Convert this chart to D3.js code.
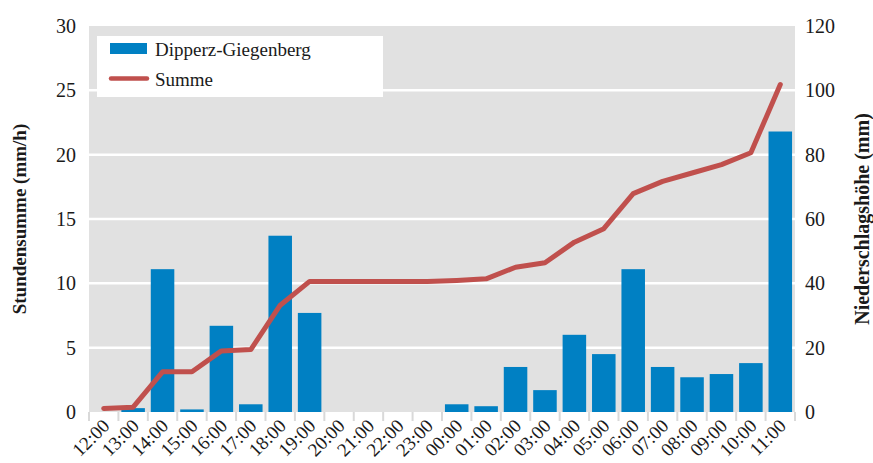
<!DOCTYPE html>
<html>
<head>
<meta charset="utf-8">
<script src="https://cdn.jsdelivr.net/npm/d3@7"></script>
<style>
  html, body { margin: 0; padding: 0; background: #fff; }
  svg { display: block; }
  text { font-family: "Liberation Serif", "DejaVu Serif", serif; fill: #1a1a1a; }
</style>
</head>
<body>
<svg id="chart" width="873" height="463"></svg>
<script>
const categories = ["12:00","13:00","14:00","15:00","16:00","17:00","18:00","19:00","20:00","21:00","22:00","23:00",
                    "00:00","01:00","02:00","03:00","04:00","05:00","06:00","07:00","08:00","09:00","10:00","11:00"];
const hourly = [0, 0.3, 11.1, 0.2, 6.7, 0.6, 13.7, 7.7, 0, 0, 0, 0,
                0.6, 0.45, 3.5, 1.7, 6.0, 4.5, 11.1, 3.5, 2.7, 2.95, 3.8, 21.8];
const cumulative = [1.1, 1.5, 12.5, 12.5, 19.0, 19.4, 33.2, 40.6, 40.6, 40.6, 40.6, 40.6,
                    40.9, 41.4, 45.0, 46.4, 52.8, 57.0, 67.9, 71.7, 74.3, 76.9, 80.6, 101.8];
const leftTicks = [0, 5, 10, 15, 20, 25, 30];
const rightTicks = [0, 20, 40, 60, 80, 100, 120];
const seriesNames = ["Dipperz-Giegenberg", "Summe"];
const leftTitle = "Stundensumme (mm/h)";
const rightTitle = "Niederschlagshöhe (mm)";

const svg = d3.select("#chart");
const x0 = 89, x1 = 795, y0 = 26, y1 = 412;

const x = d3.scaleBand().domain(categories).range([x0, x1]).paddingInner(0.2).paddingOuter(0.1);
const step = (x1 - x0) / categories.length;
const yL = d3.scaleLinear().domain([0, 30]).range([y1, y0]);
const yR = d3.scaleLinear().domain([0, 120]).range([y1, y0]);

// plot background
svg.append("rect").attr("x", x0).attr("y", y0).attr("width", x1 - x0).attr("height", y1 - y0).attr("fill", "#e1e1e1");

// gridlines
svg.append("g").selectAll("line").data(leftTicks.filter(d => d > 0 && d < 30)).join("line")
  .attr("x1", x0 - 1).attr("x2", x1 + 1)
  .attr("y1", d => yL(d)).attr("y2", d => yL(d))
  .attr("stroke", "#ffffff").attr("stroke-width", 2.5);

// bottom tick marks at band boundaries
svg.append("g").selectAll("line").data(d3.range(categories.length + 1)).join("line")
  .attr("x1", i => x0 + i * step).attr("x2", i => x0 + i * step)
  .attr("y1", y1).attr("y2", y1 + 9)
  .attr("stroke", "#d9d9d9").attr("stroke-width", 2);

// bars
svg.append("g").selectAll("rect").data(hourly).join("rect")
  .attr("x", (d, i) => x(categories[i]))
  .attr("width", x.bandwidth())
  .attr("y", d => yL(d))
  .attr("height", d => y1 - yL(d))
  .attr("fill", "#0080c3");

// line
const line = d3.line().x((d, i) => x(categories[i]) + x.bandwidth() / 2).y(d => yR(d));
svg.append("path").datum(cumulative).attr("d", line)
  .attr("fill", "none").attr("stroke", "#c0504d").attr("stroke-width", 5)
  .attr("stroke-linecap", "round").attr("stroke-linejoin", "round");

// left axis labels
svg.append("g").selectAll("text").data(leftTicks).join("text")
  .attr("x", 76).attr("y", d => yL(d)).attr("dy", "0.35em")
  .attr("text-anchor", "end").attr("font-size", 20).text(d => d);

// right axis labels
svg.append("g").selectAll("text").data(rightTicks).join("text")
  .attr("x", 805).attr("y", d => yR(d)).attr("dy", "0.35em")
  .attr("text-anchor", "start").attr("font-size", 20).text(d => d);

// x labels
svg.append("g").selectAll("text").data(categories).join("text")
  .attr("transform", d => `translate(${x(d) + x.bandwidth() / 2 + 7},${y1 + 15}) rotate(-45)`)
  .attr("text-anchor", "end").attr("font-size", 19).text(d => d);

// axis titles
svg.append("text").attr("transform", `translate(26,${(y0 + y1) / 2}) rotate(-90)`)
  .attr("text-anchor", "middle").attr("font-size", 19).attr("font-weight", "bold").text(leftTitle);
svg.append("text").attr("transform", `translate(869,${(y0 + y1) / 2}) rotate(-90)`)
  .attr("text-anchor", "middle").attr("font-size", 20).attr("font-weight", "bold").text(rightTitle);

// legend
const lg = svg.append("g");
lg.append("rect").attr("x", 97).attr("y", 36).attr("width", 286).attr("height", 61).attr("fill", "#ffffff");
lg.append("rect").attr("x", 110).attr("y", 43).attr("width", 37).attr("height", 11).attr("fill", "#0080c3");
lg.append("line").attr("x1", 111).attr("x2", 147).attr("y1", 78.5).attr("y2", 78.5)
  .attr("stroke", "#c0504d").attr("stroke-width", 4.5).attr("stroke-linecap", "round");
lg.selectAll("text.lbl").data(seriesNames).join("text").attr("class", "lbl")
  .attr("x", 155).attr("y", (d, i) => 56 + i * 30)
  .attr("font-size", 19).text(d => d);
</script>
</body>
</html>
